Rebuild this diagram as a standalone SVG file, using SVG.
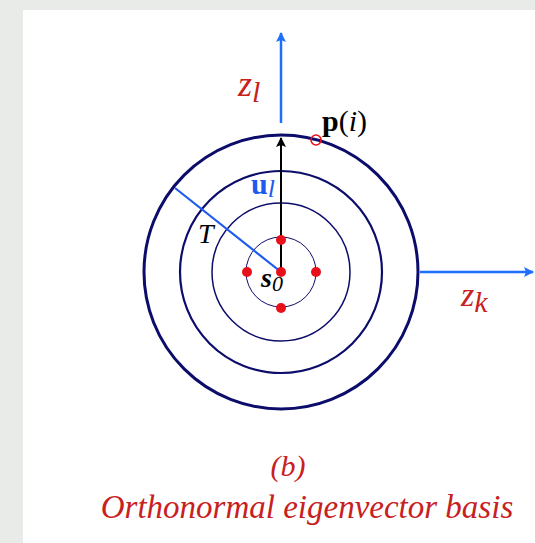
<svg xmlns="http://www.w3.org/2000/svg" width="535" height="543" viewBox="0 0 535 543">
<style>
.ring{fill:none;stroke:#0c0c6a}
.ser{font-family:"Liberation Serif","DejaVu Serif",serif}
.red{fill:#c8201e}
</style>
<defs>
<marker id="ab" markerWidth="10" markerHeight="10" refX="9" refY="5" orient="auto" markerUnits="userSpaceOnUse"><path d="M0,0 L10,5 L0,10 L2,5 z" fill="#1e6eff"/></marker>
<marker id="ak" markerWidth="10" markerHeight="10" refX="9" refY="5" orient="auto" markerUnits="userSpaceOnUse"><path d="M0,0 L10,5 L0,10 L2,5 z" fill="#000"/></marker>
</defs>
<rect width="535" height="543" fill="#e9ebe8"/>
<rect x="23" y="10" width="512" height="533" fill="#fff"/>
<g id="rings">
<circle class="ring" cx="281" cy="272" r="137" stroke-width="3"/>
<circle class="ring" cx="281" cy="272" r="101" stroke-width="2.2"/>
<circle class="ring" cx="281" cy="272" r="69" stroke-width="1.5"/>
<circle class="ring" cx="281" cy="272" r="35" stroke-width="1" stroke="#4a4a90"/>
</g>
<g id="connectors">
<line x1="281" y1="123" x2="281" y2="33" stroke="#1e6eff" stroke-width="2.5" marker-end="url(#ab)"/>
<line x1="420" y1="272" x2="533" y2="272" stroke="#1e6eff" stroke-width="2.5" marker-end="url(#ab)"/>
<line x1="281" y1="272" x2="281" y2="138" stroke="#000" stroke-width="2" marker-end="url(#ak)"/>
<line x1="281" y1="272" x2="175" y2="188" stroke="#1e5aee" stroke-width="2.2"/>
</g>
<g id="points">
<circle cx="281" cy="240" r="5" fill="#e8101a"/>
<circle cx="247" cy="272" r="5" fill="#e8101a"/>
<circle cx="316" cy="272" r="5" fill="#e8101a"/>
<circle cx="281" cy="308" r="5" fill="#e8101a"/>
<circle cx="281" cy="272" r="5" fill="#e8101a"/>
<circle cx="316" cy="140" r="5" fill="none" stroke="#e8101a" stroke-width="1.6"/>
</g>
<g id="labels" class="ser">
<text x="238" y="96" font-size="36" font-style="italic" class="red">z<tspan font-size="30" dy="6">l</tspan></text>
<text x="461" y="306" font-size="34" font-style="italic" class="red">z<tspan font-size="30" dy="6">k</tspan></text>
<text x="322" y="131" font-size="30" fill="#000"><tspan font-weight="bold">p</tspan>(<tspan font-style="italic">i</tspan>)</text>
<text x="251" y="194" font-size="30" font-weight="bold" fill="#1e5aee">u<tspan font-size="26" font-style="italic" font-weight="normal" dy="3">l</tspan></text>
<text x="198" y="243" font-size="28" font-style="italic" fill="#000">T</text>
<text x="261" y="287" font-size="28" font-style="italic" font-weight="bold" fill="#000">s<tspan font-size="22" font-weight="normal" dy="4">0</tspan></text>
<text x="288" y="476" font-size="30" font-style="italic" text-anchor="middle" class="red">(b)</text>
<text x="307" y="518" font-size="33" font-style="italic" text-anchor="middle" class="red">Orthonormal eigenvector basis</text>
</g>
</svg>
